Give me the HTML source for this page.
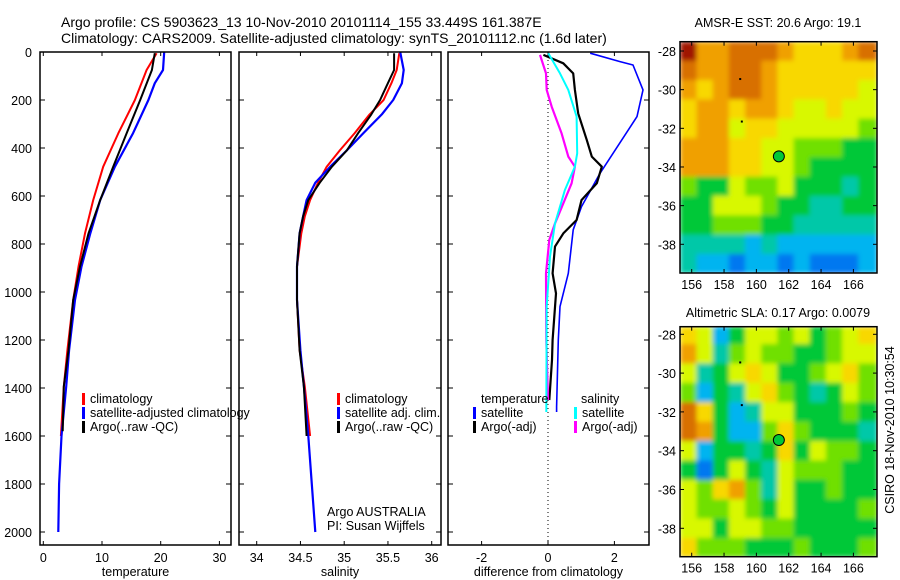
<!DOCTYPE html>
<html><head><meta charset="utf-8"><style>
html,body{margin:0;padding:0;background:#fff;}
svg{display:block;font-family:"Liberation Sans",sans-serif;}
</style></head><body>
<svg id="c" width="900" height="580" viewBox="0 0 900 580" xmlns="http://www.w3.org/2000/svg">
<defs>
<filter id="blur1" filterUnits="userSpaceOnUse" x="680" y="41.7" width="197" height="231.3"><feGaussianBlur stdDeviation="2.5" edgeMode="duplicate"/></filter>
<filter id="blur2" filterUnits="userSpaceOnUse" x="680" y="326.7" width="197" height="230"><feGaussianBlur stdDeviation="2.5" edgeMode="duplicate"/></filter>
</defs>
<text x="61" y="27" font-size="14">Argo profile: CS 5903623_13 10-Nov-2010 20101114_155 33.449S 161.387E</text>
<text x="61" y="43" font-size="14">Climatology: CARS2009. Satellite-adjusted climatology: synTS_20101112.nc (1.6d later)</text>
<text x="778" y="27" font-size="12.5" text-anchor="middle">AMSR-E SST: 20.6 Argo: 19.1</text>
<text x="778" y="317" font-size="12.5" text-anchor="middle">Altimetric SLA: 0.17 Argo: 0.0079</text>
<text transform="translate(894,430) rotate(-90)" font-size="12.5" text-anchor="middle">CSIRO 18-Nov-2010 10:30:54</text>
</svg>
<script>
// ---- data ----
const tDepth=[5,75,200,338,478,617,756,894,1033,1242,1394,1600];
const tClim=[19.3,17.6,15.6,12.8,10.2,8.5,7.1,6.0,5.1,4.1,3.5,3.0];
const tArgoDepth=[5,75,200,338,478,617,756,894,1033,1242,1394,1580];
const tArgo=[19.0,18.5,16.5,14.2,11.9,9.7,7.7,6.25,5.1,4.3,3.5,3.3];
const tSatDepth=[0,75,130,200,338,478,617,756,894,1033,1242,1394,1600,1800,2000];
const tSat=[20.6,20.4,19.0,17.9,15.3,12.2,9.7,8.0,6.5,5.4,4.4,3.9,3.1,2.7,2.55];
const sDepth=[5,75,130,200,260,338,410,478,545,617,685,756,894,1033,1242,1394,1600];
const sClim=[35.63,35.60,35.54,35.45,35.29,35.12,34.95,34.80,34.70,34.61,34.55,34.51,34.46,34.46,34.49,34.55,34.61];
const sArgo=[35.57,35.57,35.50,35.41,35.31,35.16,35.03,34.86,34.72,34.59,34.53,34.49,34.46,34.46,34.49,34.54,34.57];
const sSatDepth=[0,75,130,200,260,338,410,478,545,617,685,756,894,1033,1242,1394,1600,1800,2000];
const sSat=[35.64,35.68,35.66,35.56,35.43,35.22,35.03,34.84,34.67,34.57,34.53,34.49,34.46,34.46,34.50,34.54,34.59,34.63,34.67];
const dTSatDepth=[5,40,54,158,269,367,505,644,741,922,1061,1200,1478,1500];
const dTSat=[1.27,2.17,2.56,2.86,2.68,2.22,1.57,1.01,0.76,0.61,0.36,0.31,0.26,0.26];
const dTArgoDepth=[12,47,89,158,256,367,436,478,547,617,700,756,811,922,1006,1200,1283,1450];
const dTArgo=[-0.14,0.46,0.76,0.81,0.91,1.17,1.32,1.62,1.47,1.01,0.86,0.46,0.21,0.14,0.24,0.14,0.12,0.04];
const dSSatDepth=[5,89,158,269,422,478,575,714,853,1061,1500];
const dSSat=[0.01,0.36,0.61,0.86,0.88,0.81,0.51,0.21,0.06,-0.04,-0.05];
const dSArgoDepth=[12,89,158,228,339,436,478,547,714,783,922,1200,1450];
const dSArgo=[-0.24,-0.06,-0.04,0.11,0.41,0.61,0.81,0.71,0.21,0.04,-0.06,-0.05,0.0];
const depthTicks=[0,200,400,600,800,1000,1200,1400,1600,1800,2000];
const tTicks=[0,10,20,30];
const sTicks=[34,34.5,35,35.5,36];
const sTickLabels=['34','34.5','35','35.5','36'];
const dTicks=[-2,0,2];
const latTicks=[-28,-30,-32,-34,-36,-38];
const lonTicks=[156,158,160,162,164,166];
const sstGrid=[
[10,8,8,9,9,9,8,7,7,7,8,9],
[9,8,8,9,9,8,7,7,7,7,7,7],
[8,7,8,9,9,8,7,7,7,7,7,6],
[7,8,8,7,8,8,7,6,6,7,6,6],
[7,8,8,6,7,7,6,6,6,6,6,5],
[8,8,8,7,7,6,6,5,5,5,4,4],
[8,8,8,7,7,6,6,5,4,4,4,4],
[5,4,4,6,5,5,6,4,4,4,3,4],
[4,4,6,6,6,5,4,4,3,3,4,4],
[4,4,5,5,5,4,4,3,3,3,3,3],
[3,3,3,3,2,3,2,2,2,2,2,2],
[3,2,2,1,2,2,1,2,1,1,1,2]];
const slaGrid=[
[7,6,2,4,6,6,5,6,4,5,6,7],
[8,6,3,5,6,5,5,4,4,5,6,6],
[6,3,4,6,7,6,4,4,5,6,7,5],
[5,2,4,3,6,7,5,4,3,4,6,5],
[9,7,4,2,3,6,6,4,4,4,5,4],
[9,8,4,2,2,5,7,5,4,4,4,3],
[6,2,4,4,3,4,7,4,6,5,5,4],
[4,1,4,6,4,3,6,5,5,5,4,4],
[6,5,7,8,5,3,6,4,4,5,4,4],
[6,5,5,6,5,4,6,4,4,4,4,5],
[6,6,4,6,6,5,5,4,4,4,4,4],
[7,5,5,5,4,4,4,5,4,4,4,5]];
const argoLon=161.39, argoLat=-33.45;
const palette=['#0020b0','#0078f0','#00b4f0','#00c8a8','#00c838','#70e000','#d8f800','#f8d800','#f0a000','#d87000','#a01800'];

// ---- helpers ----
const svg=document.getElementById('c');
const NS='http://www.w3.org/2000/svg';
function mk(tag,attrs,parent){const e=document.createElementNS(NS,tag);for(const k in attrs)e.setAttribute(k,attrs[k]);(parent||svg).appendChild(e);return e;}
const Y0=52,Y1=545;
const yD=d=>52+0.24*d;

function panel(name,x0,x1,xs,ticks,labels,yLabels,title){
  const g=mk('g',{});
  
  
  ticks.forEach((t,i)=>{
    const x=xs(t);
    mk('line',{x1:x,x2:x,y1:Y0,y2:Y0+4,stroke:'#000'},g);
    mk('line',{x1:x,x2:x,y1:Y1,y2:Y1-4,stroke:'#000'},g);
    const tx=mk('text',{x:x,y:562,'font-size':12.5,'text-anchor':'middle'},g);
    
    
    tx.textContent=labels[i];
  });
  depthTicks.forEach(d=>{
    const y=yD(d);
    mk('line',{x1:x0,x2:x0+5,y1:y,y2:y,stroke:'#000'},g);
    mk('line',{x1:x1,x2:x1-5,y1:y,y2:y,stroke:'#000'},g);
    if(yLabels){const tx=mk('text',{x:x0-8,y:y+5,'font-size':12.5,'text-anchor':'end'},g);
      
      
      tx.textContent=d;}
  });
  const tt=mk('text',{x:(x0+x1)/2,y:576,'font-size':12.5,'text-anchor':'middle'},g);
  
  
  tt.textContent=title;
  return g;
}
function line(g,depths,vals,xs,color,w,name){
  const p=mk('polyline',{points:depths.map((d,i)=>xs(vals[i]).toFixed(1)+','+yD(d).toFixed(1)).join(' '),fill:'none',stroke:color,'stroke-width':w,'stroke-linejoin':'round'},g);
  
  
}
function box(g,x0,x1){mk('rect',{x:x0,y:Y0,width:x1-x0,height:Y1-Y0,fill:'none',stroke:'#000','stroke-width':1.5},g);}
function legend(g,x,y,items){
  items.forEach((it,i)=>{
    const yy=y+i*14;
    mk('rect',{x:x,y:yy-10,width:3,height:12,fill:it[1]},g);
    const t=mk('text',{x:x+8,y:yy,'font-size':12.5},g);
    
    
    t.textContent=it[0];
  });
}

// Panel 1 temperature
const xT=v=>43.3+5.87*v;
const g1=panel('temperature-panel',40,231,xT,tTicks,tTicks.map(String),true,'temperature');
line(g1,tDepth,tClim,xT,'#f00',2,'temperature-climatology-line');
line(g1,tSatDepth,tSat,xT,'#00f',2.2,'temperature-satellite-line');
line(g1,tArgoDepth,tArgo,xT,'#000',2,'temperature-argo-line');
box(g1,40,231);
legend(g1,82,403,[['climatology','#f00'],['satellite-adjusted climatology','#00f'],['Argo(..raw -QC)','#000']]);

// Panel 2 salinity
const xS=v=>256.7+87.5*(v-34);
const g2=panel('salinity-panel',239,441,xS,sTicks,sTickLabels,false,'salinity');
line(g2,sDepth,sClim,xS,'#f00',2,'salinity-climatology-line');
line(g2,sSatDepth,sSat,xS,'#00f',2.2,'salinity-satellite-line');
line(g2,sDepth,sArgo,xS,'#000',2,'salinity-argo-line');
box(g2,239,441);
legend(g2,337,403,[['climatology','#f00'],['satellite adj. clim.','#00f'],['Argo(..raw -QC)','#000']]);
const a1=mk('text',{x:327,y:516,'font-size':12.5},g2);a1.textContent='Argo AUSTRALIA';
const a2=mk('text',{x:327,y:530,'font-size':12.5},g2);a2.textContent='PI: Susan Wijffels';
mk('rect',{x:232,y:390,width:6,height:20,fill:'#fff'});

// Panel 3 difference
const xDf=v=>548+33.2*v;
const g3=panel('difference-panel',448,649,xDf,dTicks,dTicks.map(String),false,'difference from climatology');
const zl=mk('line',{x1:xDf(0),x2:xDf(0),y1:Y0,y2:Y1,stroke:'#000','stroke-dasharray':'1,3'},g3);

line(g3,dTSatDepth,dTSat,xDf,'#00f',1.6,'temp-satellite-diff-line');
line(g3,dTArgoDepth,dTArgo,xDf,'#000',2.2,'temp-argo-diff-line');
line(g3,dSArgoDepth,dSArgo,xDf,'#f0f',2.2,'sal-argo-diff-line');
line(g3,dSSatDepth,dSSat,xDf,'#0ff',2,'sal-satellite-diff-line');
box(g3,448,649);
const lt=mk('text',{x:481,y:403,'font-size':12.5,fill:'#000'},g3);lt.textContent='temperature';
const ls=mk('text',{x:581,y:403,'font-size':12.5},g3);ls.textContent='salinity';
legend(g3,473,417,[['satellite','#00f'],['Argo(-adj)','#000']]);
legend(g3,574,417,[['satellite','#0ff'],['Argo(-adj)','#f0f']]);

// Maps
function map(name,grid,top,bottom,lat28,lat38,filt){
  const g=mk('g',{});
  
  
  const L=680,R=877;
  const xl=lon=>691.7+(lon-156)*16.17;
  const yl=lat=>lat28+(-28-lat)*(lat38-lat28)/10;
  const cells=mk('g',{filter:'url(#'+filt+')'},g);
  
  
  grid.forEach((row,r)=>row.forEach((v,c)=>{
    const xa=c==0?L:xl(155.3+c), xb=c==11?R:xl(156.3+c);
    const ya=r==0?top:yl(-27.5-r), yb=r==11?bottom:yl(-28.5-r);
    const cell=mk('rect',{x:xa.toFixed(2),y:ya.toFixed(2),width:(xb-xa+0.5).toFixed(2),height:(yb-ya+0.5).toFixed(2),fill:palette[v]},cells);
    
    
  }));
  mk('rect',{x:xl(159)-1,y:yl(-29.45)-1,width:2,height:2,fill:'#000'},g);
  mk('rect',{x:xl(159.1)-1,y:yl(-31.65)-1,width:2,height:2,fill:'#000'},g);
  const m=mk('circle',{cx:xl(argoLon),cy:yl(argoLat),r:5.5,fill:'#00c838',stroke:'#000','stroke-width':1},g);
  
  
  mk('rect',{x:L,y:top,width:R-L,height:bottom-top,fill:'none',stroke:'#000','stroke-width':1.5},g);
  latTicks.forEach(t=>{
    const y=yl(t);
    mk('line',{x1:L,x2:L+4,y1:y,y2:y,stroke:'#000'},g);
    mk('line',{x1:R,x2:R-4,y1:y,y2:y,stroke:'#000'},g);
    const tx=mk('text',{x:L-4,y:y+5,'font-size':12.5,'text-anchor':'end'},g);
    
    
    tx.textContent=t;
  });
  lonTicks.forEach(t=>{
    const x=xl(t);
    mk('line',{x1:x,x2:x,y1:top,y2:top+4,stroke:'#000'},g);
    mk('line',{x1:x,x2:x,y1:bottom,y2:bottom-4,stroke:'#000'},g);
    const tx=mk('text',{x:x,y:bottom+16,'font-size':12.5,'text-anchor':'middle'},g);
    
    
    tx.textContent=t;
  });
}
map('sst-map',sstGrid,41.7,273,51,244.3,'blur1');
map('sla-map',slaGrid,326.7,556.7,334.3,528.3,'blur2');
</script>
</body></html>
